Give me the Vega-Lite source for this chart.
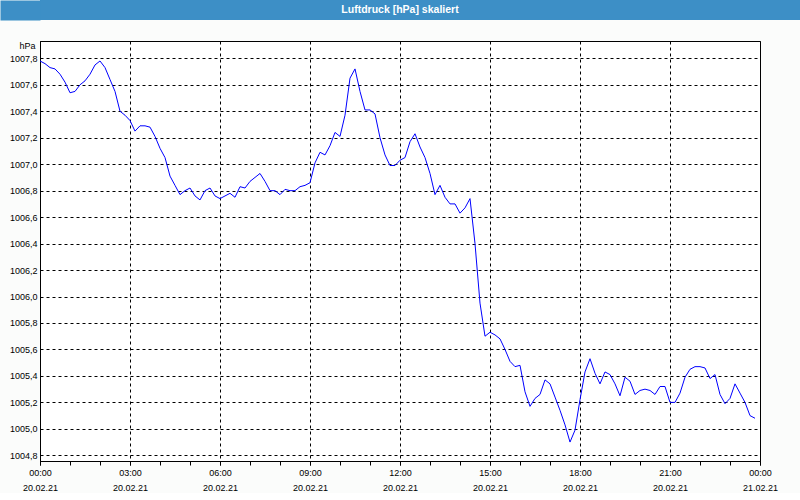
{
  "$schema": "https://vega.github.io/schema/vega-lite/v6.json",
  "padding": {"left": -5, "top": -5, "right": 0, "bottom": 0},
  "background": "#fbfcfb",
  "spacing": 15,
  "config": {"font": "Liberation Sans", "view": {"stroke": null}, "locale": {"number": {"decimal": ",", "thousands": ".", "grouping": [3], "currency": ["", " €"]}}},
  "vconcat": [
    {
      "width": 760,
      "height": 20,
      "view": {"fill": "#3d8fc6", "stroke": null},
      "data": {"values": [{"title": "Luftdruck [hPa] skaliert"}]},
      "mark": {"type": "text", "color": "#ffffff", "fontWeight": "bold", "fontSize": 10.5, "dx": -20, "font": "Liberation Sans"},
      "encoding": {
        "text": {"field": "title"},
        "y": {"field": "title", "type": "nominal", "axis": {"orient": "left", "title": null, "labels": false, "grid": false, "domain": false, "ticks": true, "tickSize": 20, "tickWidth": 20, "tickCap": "square", "tickColor": "#3d8fc6", "offset": 10}}
      }
    },
    {
      "width": 720,
      "height": 420,
      "view": {"stroke": "#000000", "fill": "#ffffff"},
      "data": {"values": [
        {"t":"2021-02-20T00:00","p":1007.78},{"t":"2021-02-20T00:10","p":1007.76},{"t":"2021-02-20T00:20","p":1007.73},{"t":"2021-02-20T00:30","p":1007.72},{"t":"2021-02-20T00:40","p":1007.68},{"t":"2021-02-20T00:50","p":1007.62},
        {"t":"2021-02-20T01:00","p":1007.54},{"t":"2021-02-20T01:10","p":1007.55},{"t":"2021-02-20T01:20","p":1007.60},{"t":"2021-02-20T01:30","p":1007.63},{"t":"2021-02-20T01:40","p":1007.68},{"t":"2021-02-20T01:50","p":1007.75},
        {"t":"2021-02-20T02:00","p":1007.78},{"t":"2021-02-20T02:10","p":1007.73},{"t":"2021-02-20T02:20","p":1007.64},{"t":"2021-02-20T02:30","p":1007.55},{"t":"2021-02-20T02:40","p":1007.40},{"t":"2021-02-20T02:50","p":1007.37},
        {"t":"2021-02-20T03:00","p":1007.33},{"t":"2021-02-20T03:10","p":1007.25},{"t":"2021-02-20T03:20","p":1007.29},{"t":"2021-02-20T03:30","p":1007.29},{"t":"2021-02-20T03:40","p":1007.28},{"t":"2021-02-20T03:50","p":1007.21},
        {"t":"2021-02-20T04:00","p":1007.12},{"t":"2021-02-20T04:10","p":1007.05},{"t":"2021-02-20T04:20","p":1006.91},{"t":"2021-02-20T04:30","p":1006.84},{"t":"2021-02-20T04:40","p":1006.77},{"t":"2021-02-20T04:50","p":1006.80},
        {"t":"2021-02-20T05:00","p":1006.82},{"t":"2021-02-20T05:10","p":1006.76},{"t":"2021-02-20T05:20","p":1006.73},{"t":"2021-02-20T05:30","p":1006.80},{"t":"2021-02-20T05:40","p":1006.82},{"t":"2021-02-20T05:50","p":1006.76},
        {"t":"2021-02-20T06:00","p":1006.74},{"t":"2021-02-20T06:10","p":1006.76},{"t":"2021-02-20T06:20","p":1006.78},{"t":"2021-02-20T06:30","p":1006.75},{"t":"2021-02-20T06:40","p":1006.83},{"t":"2021-02-20T06:50","p":1006.82},
        {"t":"2021-02-20T07:00","p":1006.87},{"t":"2021-02-20T07:10","p":1006.90},{"t":"2021-02-20T07:20","p":1006.93},{"t":"2021-02-20T07:30","p":1006.87},{"t":"2021-02-20T07:40","p":1006.80},{"t":"2021-02-20T07:50","p":1006.80},
        {"t":"2021-02-20T08:00","p":1006.77},{"t":"2021-02-20T08:10","p":1006.81},{"t":"2021-02-20T08:20","p":1006.80},{"t":"2021-02-20T08:30","p":1006.80},{"t":"2021-02-20T08:40","p":1006.83},{"t":"2021-02-20T08:50","p":1006.84},
        {"t":"2021-02-20T09:00","p":1006.86},{"t":"2021-02-20T09:10","p":1007.01},{"t":"2021-02-20T09:20","p":1007.09},{"t":"2021-02-20T09:30","p":1007.07},{"t":"2021-02-20T09:40","p":1007.14},{"t":"2021-02-20T09:50","p":1007.24},
        {"t":"2021-02-20T10:00","p":1007.21},{"t":"2021-02-20T10:10","p":1007.37},{"t":"2021-02-20T10:20","p":1007.65},{"t":"2021-02-20T10:30","p":1007.72},{"t":"2021-02-20T10:40","p":1007.55},{"t":"2021-02-20T10:50","p":1007.41},
        {"t":"2021-02-20T11:00","p":1007.41},{"t":"2021-02-20T11:10","p":1007.38},{"t":"2021-02-20T11:20","p":1007.20},{"t":"2021-02-20T11:30","p":1007.07},{"t":"2021-02-20T11:40","p":1006.99},{"t":"2021-02-20T11:50","p":1006.99},
        {"t":"2021-02-20T12:00","p":1007.03},{"t":"2021-02-20T12:10","p":1007.05},{"t":"2021-02-20T12:20","p":1007.17},{"t":"2021-02-20T12:30","p":1007.23},{"t":"2021-02-20T12:40","p":1007.13},{"t":"2021-02-20T12:50","p":1007.05},
        {"t":"2021-02-20T13:00","p":1006.93},{"t":"2021-02-20T13:10","p":1006.77},{"t":"2021-02-20T13:20","p":1006.84},{"t":"2021-02-20T13:30","p":1006.75},{"t":"2021-02-20T13:40","p":1006.70},{"t":"2021-02-20T13:50","p":1006.70},
        {"t":"2021-02-20T14:00","p":1006.63},{"t":"2021-02-20T14:10","p":1006.67},{"t":"2021-02-20T14:20","p":1006.74},{"t":"2021-02-20T14:30","p":1006.40},{"t":"2021-02-20T14:40","p":1005.95},{"t":"2021-02-20T14:50","p":1005.70},
        {"t":"2021-02-20T15:00","p":1005.73},{"t":"2021-02-20T15:10","p":1005.71},{"t":"2021-02-20T15:20","p":1005.68},{"t":"2021-02-20T15:30","p":1005.60},{"t":"2021-02-20T15:40","p":1005.51},{"t":"2021-02-20T15:50","p":1005.47},
        {"t":"2021-02-20T16:00","p":1005.48},{"t":"2021-02-20T16:10","p":1005.28},{"t":"2021-02-20T16:20","p":1005.17},{"t":"2021-02-20T16:30","p":1005.23},{"t":"2021-02-20T16:40","p":1005.26},{"t":"2021-02-20T16:50","p":1005.37},
        {"t":"2021-02-20T17:00","p":1005.34},{"t":"2021-02-20T17:10","p":1005.24},{"t":"2021-02-20T17:20","p":1005.14},{"t":"2021-02-20T17:30","p":1005.03},{"t":"2021-02-20T17:40","p":1004.90},{"t":"2021-02-20T17:50","p":1004.99},
        {"t":"2021-02-20T18:00","p":1005.22},{"t":"2021-02-20T18:10","p":1005.43},{"t":"2021-02-20T18:20","p":1005.53},{"t":"2021-02-20T18:30","p":1005.42},{"t":"2021-02-20T18:40","p":1005.34},{"t":"2021-02-20T18:50","p":1005.43},
        {"t":"2021-02-20T19:00","p":1005.41},{"t":"2021-02-20T19:10","p":1005.34},{"t":"2021-02-20T19:20","p":1005.25},{"t":"2021-02-20T19:30","p":1005.39},{"t":"2021-02-20T19:40","p":1005.36},{"t":"2021-02-20T19:50","p":1005.26},
        {"t":"2021-02-20T20:00","p":1005.29},{"t":"2021-02-20T20:10","p":1005.30},{"t":"2021-02-20T20:20","p":1005.29},{"t":"2021-02-20T20:30","p":1005.26},{"t":"2021-02-20T20:40","p":1005.32},{"t":"2021-02-20T20:50","p":1005.32},
        {"t":"2021-02-20T21:00","p":1005.20},{"t":"2021-02-20T21:10","p":1005.20},{"t":"2021-02-20T21:20","p":1005.27},{"t":"2021-02-20T21:30","p":1005.39},{"t":"2021-02-20T21:40","p":1005.45},{"t":"2021-02-20T21:50","p":1005.47},
        {"t":"2021-02-20T22:00","p":1005.47},{"t":"2021-02-20T22:10","p":1005.46},{"t":"2021-02-20T22:20","p":1005.38},{"t":"2021-02-20T22:30","p":1005.41},{"t":"2021-02-20T22:40","p":1005.26},{"t":"2021-02-20T22:50","p":1005.19},
        {"t":"2021-02-20T23:00","p":1005.23},{"t":"2021-02-20T23:10","p":1005.34},{"t":"2021-02-20T23:20","p":1005.27},{"t":"2021-02-20T23:30","p":1005.20},{"t":"2021-02-20T23:40","p":1005.10},{"t":"2021-02-20T23:50","p":1005.08}
      ]},
      "resolve": {"axis": {"x": "independent", "y": "independent"}},
      "layer": [
        {
          "mark": {"type": "line", "color": "#0000ff", "strokeWidth": 1},
          "encoding": {
            "x": {
              "field": "t", "type": "temporal",
              "scale": {"domain": [{"year": 2021, "month": 2, "date": 20, "hours": 0}, {"year": 2021, "month": 2, "date": 21, "hours": 0}], "nice": false},
              "axis": {
                "orient": "bottom", "title": null, "format": "%H:%M",
                "values": [
                  {"year": 2021, "month": 2, "date": 20, "hours": 0}, {"year": 2021, "month": 2, "date": 20, "hours": 3},
                  {"year": 2021, "month": 2, "date": 20, "hours": 6}, {"year": 2021, "month": 2, "date": 20, "hours": 9},
                  {"year": 2021, "month": 2, "date": 20, "hours": 12}, {"year": 2021, "month": 2, "date": 20, "hours": 15},
                  {"year": 2021, "month": 2, "date": 20, "hours": 18}, {"year": 2021, "month": 2, "date": 20, "hours": 21},
                  {"year": 2021, "month": 2, "date": 21, "hours": 0}
                ],
                "labelOverlap": false, "labelFlush": false, "labelBound": false,
                "labelFont": "Liberation Sans", "labelFontSize": 9, "labelColor": "#000000", "labelPadding": 3,
                "tickSize": 4, "tickColor": "#000000", "domainColor": "#000000",
                "grid": true, "gridColor": "#000000", "gridDash": [3, 3]
              }
            },
            "y": {
              "field": "p", "type": "quantitative",
              "scale": {"domain": [1004.757, 1007.931], "nice": false, "zero": false},
              "axis": {
                "orient": "left",
                "title": "hPa", "titleAngle": 0, "titleAlign": "right", "titleBaseline": "middle", "titleX": -5, "titleY": 4,
                "titleFont": "Liberation Sans", "titleFontSize": 9, "titleFontWeight": "normal", "titleColor": "#000000",
                "values": [1004.8, 1005.0, 1005.2, 1005.4, 1005.6, 1005.8, 1006.0, 1006.2, 1006.4, 1006.6, 1006.8, 1007.0, 1007.2, 1007.4, 1007.6, 1007.8],
                "format": ".1f",
                "labelFont": "Liberation Sans", "labelFontSize": 9, "labelColor": "#000000", "labelPadding": 3, "labelOverlap": false,
                "ticks": false, "domainColor": "#000000",
                "grid": true, "gridColor": "#000000", "gridDash": [3, 3]
              }
            }
          }
        },
        {
          "mark": {"type": "line", "strokeOpacity": 0},
          "encoding": {
            "x": {
              "field": "t", "type": "temporal",
              "axis": {
                "orient": "bottom", "title": null, "labels": false, "grid": false, "domain": false,
                "values": [
                  {"year": 2021, "month": 2, "date": 20, "hours": 0}, {"year": 2021, "month": 2, "date": 20, "hours": 1}, {"year": 2021, "month": 2, "date": 20, "hours": 2},
                  {"year": 2021, "month": 2, "date": 20, "hours": 3}, {"year": 2021, "month": 2, "date": 20, "hours": 4}, {"year": 2021, "month": 2, "date": 20, "hours": 5},
                  {"year": 2021, "month": 2, "date": 20, "hours": 6}, {"year": 2021, "month": 2, "date": 20, "hours": 7}, {"year": 2021, "month": 2, "date": 20, "hours": 8},
                  {"year": 2021, "month": 2, "date": 20, "hours": 9}, {"year": 2021, "month": 2, "date": 20, "hours": 10}, {"year": 2021, "month": 2, "date": 20, "hours": 11},
                  {"year": 2021, "month": 2, "date": 20, "hours": 12}, {"year": 2021, "month": 2, "date": 20, "hours": 13}, {"year": 2021, "month": 2, "date": 20, "hours": 14},
                  {"year": 2021, "month": 2, "date": 20, "hours": 15}, {"year": 2021, "month": 2, "date": 20, "hours": 16}, {"year": 2021, "month": 2, "date": 20, "hours": 17},
                  {"year": 2021, "month": 2, "date": 20, "hours": 18}, {"year": 2021, "month": 2, "date": 20, "hours": 19}, {"year": 2021, "month": 2, "date": 20, "hours": 20},
                  {"year": 2021, "month": 2, "date": 20, "hours": 21}, {"year": 2021, "month": 2, "date": 20, "hours": 22}, {"year": 2021, "month": 2, "date": 20, "hours": 23},
                  {"year": 2021, "month": 2, "date": 21, "hours": 0}
                ],
                "tickSize": 4, "tickColor": "#000000"
              }
            },
            "y": {"field": "p", "type": "quantitative", "axis": null}
          }
        },
        {
          "mark": {"type": "line", "strokeOpacity": 0},
          "encoding": {
            "x": {
              "field": "t", "type": "temporal",
              "axis": {
                "orient": "bottom", "title": null, "format": "%d.%m.%y", "grid": false, "domain": false, "ticks": false, "tickSize": 0,
                "values": [
                  {"year": 2021, "month": 2, "date": 20, "hours": 0}, {"year": 2021, "month": 2, "date": 20, "hours": 3},
                  {"year": 2021, "month": 2, "date": 20, "hours": 6}, {"year": 2021, "month": 2, "date": 20, "hours": 9},
                  {"year": 2021, "month": 2, "date": 20, "hours": 12}, {"year": 2021, "month": 2, "date": 20, "hours": 15},
                  {"year": 2021, "month": 2, "date": 20, "hours": 18}, {"year": 2021, "month": 2, "date": 20, "hours": 21},
                  {"year": 2021, "month": 2, "date": 21, "hours": 0}
                ],
                "labelOverlap": false, "labelFlush": false, "labelBound": false,
                "labelFont": "Liberation Sans", "labelFontSize": 9, "labelColor": "#000000", "labelPadding": 22
              }
            },
            "y": {"field": "p", "type": "quantitative", "axis": null}
          }
        }
      ]
    }
  ]
}
